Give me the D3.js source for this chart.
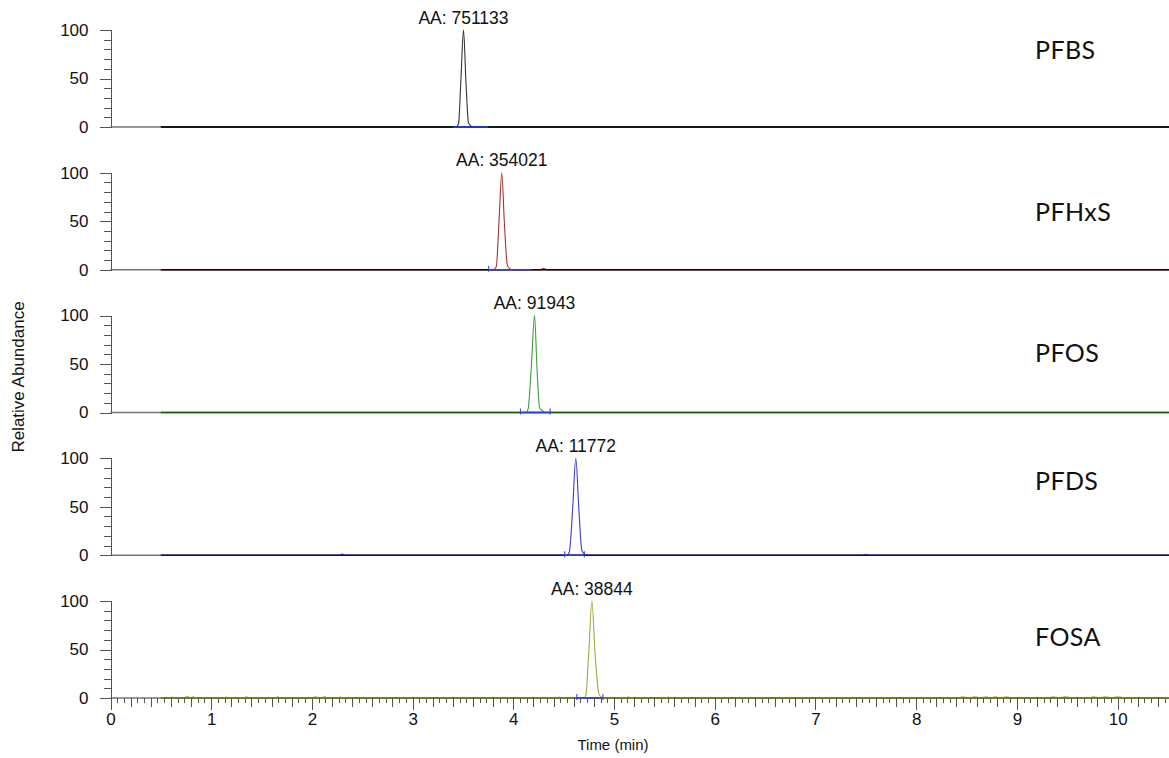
<!DOCTYPE html>
<html lang="en">
<head>
    <meta charset="utf-8">
    <title>Chromatograms</title>
    <script src="https://d3js.org/d3.v7.min.js"></script>
    <style>
        body {
            margin: 0;
            background: #fff;
        }

        svg {
            display: block;
        }

        text {
            font-family: "Liberation Sans", Arial, sans-serif;
            fill: #111;
        }

        .axis path, .axis line {
            stroke: #555;
            shape-rendering: crispEdges;
        }

        .axis text {
            font-size: 17px;
            fill: #111;
        }

        .compound {
            font-family: Lato, "Open Sans", sans-serif;
            font-size: 25px;
            letter-spacing: 0.4px;
        }
    </style>
</head>
<body>
<svg id="target"></svg>
<script>
    // compounds, one panel each
    const compounds = ['PFBS', 'PFHxS', 'PFOS', 'PFDS', 'FOSA'];
    const areas = ['751133', '354021', '91943', '11772', '38844'];
    const apexTimes = [3.505, 3.885, 4.21, 4.62, 4.78];

    // traces (time in min, relative abundance)
    const pfbsT = [0.5, 3.43, 3.455, 3.48, 3.505, 3.53, 3.555, 3.575, 3.6, 10.51];
    const pfbsV = [0, 0, 3, 50, 100, 45, 4, 1.5, 0, 0];
    const pfhxsT = [0.5, 3.80, 3.83, 3.86, 3.885, 3.91, 3.94, 3.96, 3.99, 4.27, 4.30, 4.33, 10.51];
    const pfhxsV = [0, 0, 3, 55, 100, 50, 5, 1.5, 0, 0, 1.5, 0, 0];
    const pfosT = [0.5, 4.12, 4.145, 4.18, 4.21, 4.235, 4.26, 4.285, 4.315, 10.51];
    const pfosV = [0, 0, 3, 50, 100, 45, 5, 2, 0, 0];
    const pfdsT = [0.5, 2.27, 2.30, 2.33, 4.53, 4.555, 4.59, 4.62, 4.65, 4.68, 4.70, 4.72, 7.47, 7.50, 7.53, 10.51];
    const pfdsV = [0, 0, 1.2, 0, 0, 3, 50, 100, 48, 5, 2, 0, 0, 1, 0, 0];
    const fosaT = [0.5, 0.58, 0.61, 0.64, 0.73, 0.76, 0.79, 0.82, 0.85, 1.12, 1.15, 1.18, 1.32, 1.35, 1.38,
        1.63, 1.66, 1.69, 2.0, 2.03, 2.08, 2.13, 2.16, 2.25, 2.28, 2.31, 4.43, 4.46, 4.49,
        4.70, 4.72, 4.75, 4.78, 4.81, 4.85, 4.87, 4.90, 5.11, 5.14, 5.17, 5.51, 5.54, 5.57,
        8.41, 8.46, 8.52, 8.58, 8.64, 8.70, 8.73, 8.78, 8.84, 8.90, 8.96, 9.30, 9.36, 9.42, 9.48, 9.54, 9.57,
        9.71, 9.76, 9.82, 9.88, 9.94, 10.0, 10.06, 10.09, 10.51];
    const fosaV = [0, 0, 1, 0, 0, 1.5, 0.5, 1.2, 0, 0, 1, 0, 0, 1.2, 0,
        0, 1.2, 0, 0, 1.3, 0.4, 1.2, 0, 0, 1, 0, 0, 1, 0,
        0, 3, 50, 100, 48, 4, 1.5, 0, 0, 1.2, 0, 0, 1, 0,
        0, 1.2, 0.4, 1.2, 0.4, 1.2, 0, 1.2, 0.4, 1.2, 0, 0, 1.2, 0.4, 1.2, 0.4, 0,
        0, 1.2, 0.4, 1.2, 0.4, 1.2, 0.4, 0, 0];

    const traceTimes = [pfbsT, pfhxsT, pfosT, pfdsT, fosaT];
    const traceValues = [pfbsV, pfhxsV, pfosV, pfdsV, fosaV];

    // blue integration baselines [start, end]
    const integStart = [3.40, 3.755, 4.07, 4.51, 4.63];
    const integEnd = [3.75, 4.18, 4.365, 4.705, 4.89];

    const peakColors = ['#333333', '#a83434', '#3aa03a', '#3a3ad0', '#a8a844'];
    const baseColors = ['#000000', '#1a0505', '#0a5a0a', '#10106a', '#6e6e08'];
    const labelOffsets = [20, 39, 37, 23, 36];

    const width = 1169;
    const height = 758;
    const svg = d3.select('#target').attr('width', width).attr('height', height);

    const x = d3.scaleLinear().domain([0, 10.51]).range([110.5, 1169]);
    const panelTop = 30;
    const panelStep = 142.75;
    const panelHeight = 97;

    compounds.forEach((name, i) => {
        const top = panelTop + i * panelStep;
        const y = d3.scaleLinear().domain([0, 100]).range([top + panelHeight, top]);
        const g = svg.append('g');
        const y0 = y(0);

        // zero line of the panel
        g.append('line')
            .attr('x1', x(0)).attr('x2', width)
            .attr('y1', y0).attr('y2', y0)
            .attr('stroke', '#777').attr('stroke-width', 1.5);

        // y axis: minor then major
        g.append('g').attr('class', 'axis')
            .attr('transform', `translate(${x(0)},0)`)
            .call(d3.axisLeft(y).tickValues(d3.range(0, 101, 10)).tickSize(7).tickFormat(''));
        g.append('g').attr('class', 'axis')
            .attr('transform', `translate(${x(0)},0)`)
            .call(d3.axisLeft(y).tickValues([0, 50, 100]).tickSize(11).tickPadding(11))
            .call(a => a.select('.domain').remove());

        const pts = traceTimes[i].map((t, k) => [t, traceValues[i][k]]);
        const line = d3.line()
            .x(d => x(d[0]))
            .y(d => y(d[1]))
            .curve(d3.curveMonotoneX);

        g.append('path')
            .datum(pts)
            .attr('fill', 'none')
            .attr('stroke', peakColors[i])
            .attr('stroke-width', 1.1)
            .attr('d', line);

        // flat baseline of the trace
        const tFirst = traceTimes[i][0];
        const tLast = traceTimes[i][traceTimes[i].length - 1];
        g.append('line')
            .attr('x1', x(tFirst)).attr('x2', x(tLast))
            .attr('y1', y0).attr('y2', y0)
            .attr('stroke', baseColors[i]).attr('stroke-width', 1.5);

        // integration baseline
        g.append('line')
            .attr('x1', x(integStart[i])).attr('x2', x(integEnd[i]))
            .attr('y1', y0).attr('y2', y0)
            .attr('stroke', '#2b3cf0').attr('stroke-width', 1.5);
        if (i > 0) {
            const ends = i === 1 ? [integStart[i]] : [integStart[i], integEnd[i]];
            g.selectAll('.integ-tick')
                .data(ends)
                .join('line')
                .attr('x1', d => x(d)).attr('x2', d => x(d))
                .attr('y1', y0 - 4).attr('y2', y0 + 2)
                .attr('stroke', '#2b3cf0').attr('stroke-width', 1);
        }

        // area annotation
        g.append('text')
            .attr('x', x(apexTimes[i]))
            .attr('y', y(100) - 6.5)
            .attr('text-anchor', 'middle')
            .attr('font-size', 17.5)
            .text('AA: ' + areas[i]);

        // compound name
        g.append('text')
            .attr('class', 'compound')
            .attr('x', 1035)
            .attr('y', top + labelOffsets[i] + 9)
            .text(name);

        // time axis on the last panel
        if (i === compounds.length - 1) {
            const minor = d3.range(0, 158).map(k => k / 15);
            const medium = d3.range(0, 53).map(k => k / 5);
            g.append('g').attr('class', 'axis')
                .attr('transform', `translate(0,${y0})`)
                .call(d3.axisBottom(x).tickValues(minor).tickSize(5).tickFormat(''))
                .call(a => a.select('.domain').remove());
            g.append('g').attr('class', 'axis')
                .attr('transform', `translate(0,${y0})`)
                .call(d3.axisBottom(x).tickValues(medium).tickSize(9).tickFormat(''))
                .call(a => a.select('.domain').remove());
            g.append('g').attr('class', 'axis')
                .attr('transform', `translate(0,${y0})`)
                .call(d3.axisBottom(x).tickValues(d3.range(0, 11)).tickSize(12).tickPadding(3).tickFormat(d3.format('d')))
                .call(a => a.select('.domain').remove());
        }
    });

    svg.append('text')
        .attr('transform', 'translate(24,377) rotate(-90)')
        .attr('text-anchor', 'middle')
        .attr('font-size', 17)
        .text('Relative Abundance');

    svg.append('text')
        .attr('x', 613)
        .attr('y', 750)
        .attr('text-anchor', 'middle')
        .attr('font-size', 15)
        .text('Time (min)');
</script>
</body>
</html>
